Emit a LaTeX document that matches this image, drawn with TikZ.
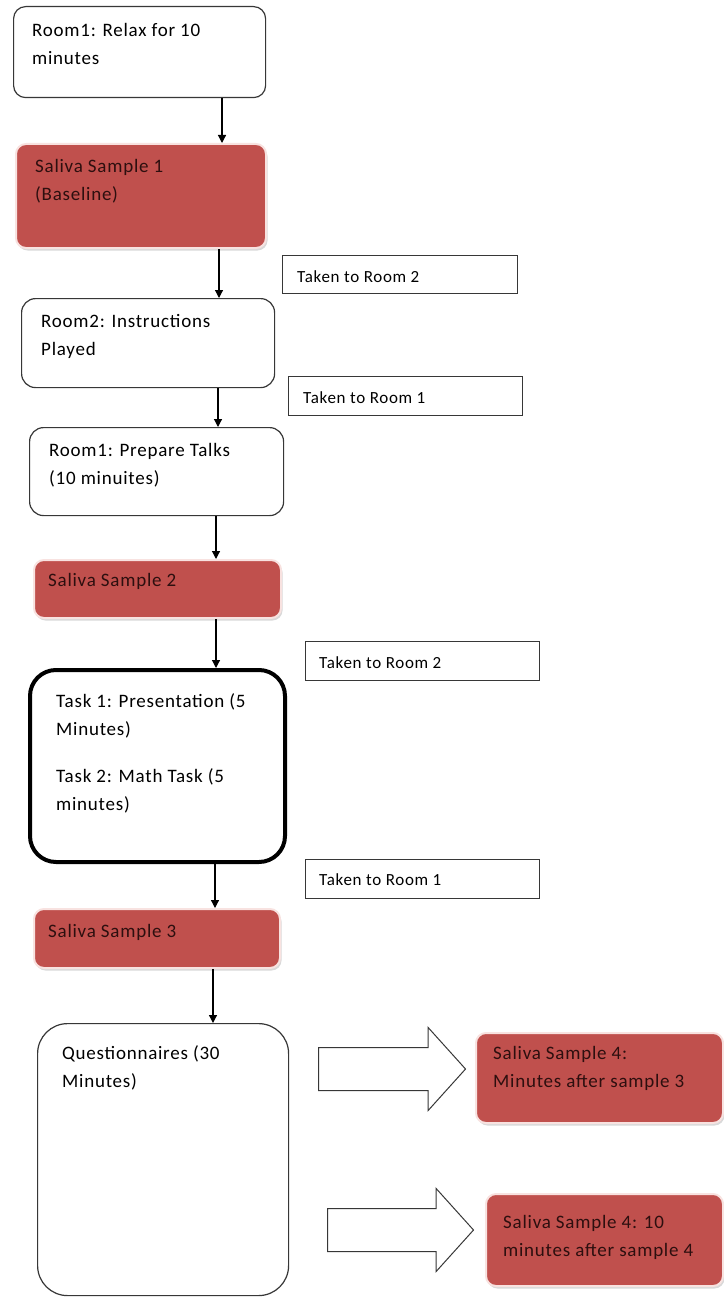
\documentclass[tikz,border=0pt]{standalone}
\usepackage{fontspec}
\setmainfont{Carlito}[LetterSpace=4]
\usetikzlibrary{arrows.meta,shapes.arrows,shadows}
\definecolor{salred}{RGB}{192,80,77}
\definecolor{salglow}{RGB}{248,226,224}
\definecolor{edgegrey}{RGB}{55,55,55}
\definecolor{saltext}{RGB}{45,15,15}

\begin{document}
\begin{tikzpicture}[x=1pt,y=-1pt,>={Triangle[length=8pt,width=8pt]}]
\tikzstyle{wbox}=[rounded corners=12pt, draw=edgegrey, line width=1.2pt, fill=white, anchor=north west, inner sep=0pt]
\tikzstyle{rbox}=[rounded corners=10pt, draw=salglow, line width=2pt, fill=salred, anchor=north west, inner sep=0pt, drop shadow={shadow xshift=1.5pt, shadow yshift=-2.5pt, opacity=0.3}]
\tikzstyle{tbox}=[draw=edgegrey, line width=1.2pt, anchor=north west, inner sep=0pt, minimum width=234pt, minimum height=39pt]
\tikzstyle{txt}=[anchor=base west, align=left, inner sep=0pt, font=\fontsize{19pt}{28pt}\selectfont]
\tikzstyle{rtxt}=[txt, text=saltext]
\tikzstyle{stxt}=[anchor=base west, inner sep=0pt, font=\fontsize{17pt}{20pt}\selectfont]
\tikzstyle{bigarr}=[single arrow, draw=edgegrey, line width=1pt, fill=white, inner sep=0pt, text height=21pt, text depth=21pt, minimum height=147pt, single arrow head extend=20pt, single arrow tip angle=96, anchor=west]
\useasboundingbox (0,0) rectangle (723,1297);

% main column (text nodes sit on their last line)
\node[wbox, minimum width=252pt, minimum height=91pt] (room1) at (13,6) {};
\node[txt] (room1t) at (32,65) {Room1: Relax for 10\\minutes};
\node[rbox, minimum width=250pt, minimum height=104pt] (sal1) at (15,143) {};
\node[rtxt] (sal1t) at (35,201) {Saliva Sample 1\\(Baseline)};
\node[wbox, rounded corners=14pt, minimum width=253pt, minimum height=89pt] (room2) at (21,298) {};
\node[txt] (room2t) at (41,355) {Room2: Instructions\\Played};
\node[wbox, rounded corners=14pt, minimum width=254pt, minimum height=88pt] (talks) at (29,427) {};
\node[txt] (talkst) at (49,484) {Room1: Prepare Talks\\(10 minuites)};
\node[rbox, minimum width=247pt, minimum height=58pt] (sal2) at (33,559) {};
\node[rtxt] (sal2t) at (48,586) {Saliva Sample 2};
\node[wbox, rounded corners=26pt, line width=4pt, draw=black, minimum width=255pt, minimum height=192pt] (tasks) at (28,668) {};
\node[txt] (taskst) at (56,810) {Task 1: Presentation (5\\Minutes)\\[19pt]Task 2: Math Task (5\\minutes)};
\node[rbox, minimum width=246pt, minimum height=59pt] (sal3) at (33,908) {};
\node[rtxt] (sal3t) at (48,937) {Saliva Sample 3};
\node[wbox, rounded corners=30pt, minimum width=251pt, minimum height=272pt] (quest) at (37,1023) {};
\node[txt] (questt) at (62,1087) {Questionnaires (30\\Minutes)};

% room changes
\node[tbox, minimum width=235pt, minimum height=38pt] (move1) at (282,255) {};
\node[stxt] (move1t) at (297,282) {Taken to Room 2};
\node[tbox] (move2) at (288,376) {};
\node[stxt] (move2t) at (303,403) {Taken to Room 1};
\node[tbox] (move3) at (305,641) {};
\node[stxt] (move3t) at (319,668) {Taken to Room 2};
\node[tbox] (move4) at (305,859) {};
\node[stxt] (move4t) at (319,885) {Taken to Room 1};

% later samples
\node[rbox, minimum width=247pt, minimum height=90pt] (sal4) at (475,1032) {};
\node[rtxt] (sal4t) at (493,1087) {Saliva Sample 4:\\Minutes after sample 3};
\node[rbox, minimum width=237pt, minimum height=92pt] (sal5) at (485,1193) {};
\node[rtxt] (sal5t) at (503,1256) {Saliva Sample 4: 10\\minutes after sample 4};
\node[bigarr] (qarr1) at (318,1069) {};
\node[bigarr, minimum height=146pt] (qarr2) at (327,1230) {};

\draw[->, line width=1.2pt] (room1.south -| 222,0) -- (sal1.north -| 222,0);
\draw[->, line width=1.2pt] (sal1.south -| 219,0) -- (room2.north -| 219,0);
\draw[->, line width=1.2pt] (room2.south -| 218,0) -- (talks.north -| 218,0);
\draw[->, line width=1.2pt] (talks.south -| 216,0) -- (sal2.north -| 216,0);
\draw[->, line width=1.2pt] (sal2.south -| 216,0) -- (tasks.north -| 216,0);
\draw[->, line width=1.2pt] (tasks.south -| 215,0) -- (sal3.north -| 215,0);
\draw[->, line width=1.2pt] (sal3.south -| 213,0) -- (quest.north -| 213,0);
\end{tikzpicture}
\end{document}
